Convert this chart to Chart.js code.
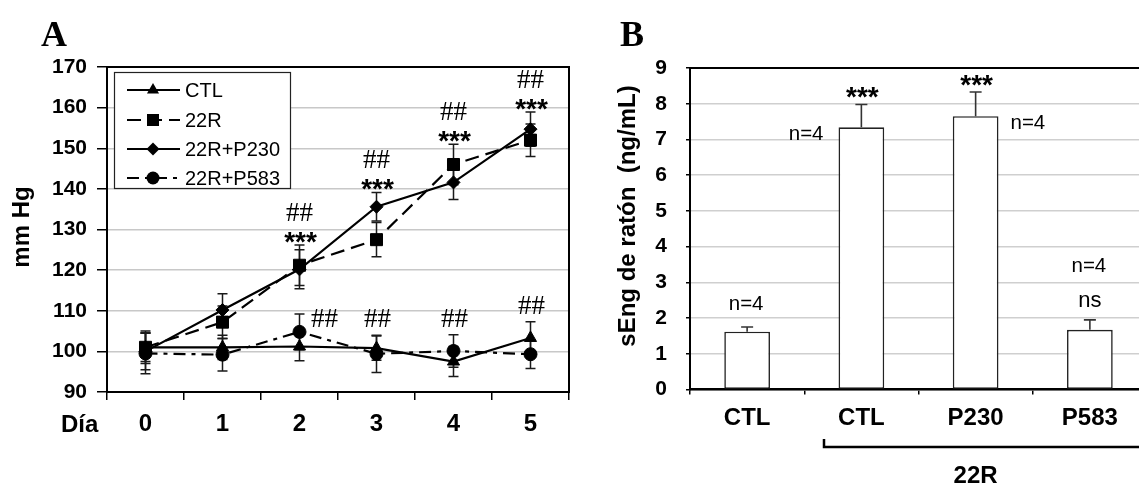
<!DOCTYPE html>
<html><head><meta charset="utf-8">
<script src="https://cdn.jsdelivr.net/npm/chart.js@4.4.1/dist/chart.umd.min.js"></script>
<style>
html,body{margin:0;padding:0;background:#fff;width:1139px;height:484px;overflow:hidden;position:relative}
#ca{position:absolute;left:0;top:0}
#cb{position:absolute;left:600px;top:0}
</style></head><body>
<canvas id="ca" width="600" height="484"></canvas>
<canvas id="cb" width="560" height="484"></canvas>
<script>
// ---------- Panel A data ----------
const days = ['0', '1', '2', '3', '4', '5'];
const seriesNames = ['CTL', '22R', '22R+P230', '22R+P583'];
const ctlVals  = [101.0, 101.0, 101.2, 100.8, 97.5, 103.3];
const ctlErr   = [3.5, 3.0, 3.5, 3.0, 3.7, 4.0];
const r22Vals  = [101.0, 107.2, 121.2, 127.5, 146.0, 152.0];
const r22Err   = [4.0, 4.0, 5.0, 4.2, 5.0, 4.0];
const p230Vals = [100.0, 110.2, 120.2, 135.6, 141.6, 154.7];
const p230Err  = [4.5, 4.0, 4.8, 3.5, 4.2, 4.2];
const p583Vals = [99.5, 99.2, 104.8, 99.4, 100.1, 99.3];
const p583Err  = [5.0, 4.0, 4.4, 4.6, 4.0, 3.5];
const yTicksA  = [90, 100, 110, 120, 130, 140, 150, 160, 170];
const starMarksA = ['', '', '***', '***', '***', '***'];
const hashMarksA = ['', '', '##', '##', '##', '##'];
const lowHashMarksA = ['', '', '##', '##', '##', '##'];

// ---------- Panel B data ----------
const barCats  = ['CTL', 'CTL', 'P230', 'P583'];
const barVals  = [1.62, 7.34, 7.65, 1.67];
const barErr   = [0.13, 0.64, 0.68, 0.28];
const yTicksB  = [0, 1, 2, 3, 4, 5, 6, 7, 8, 9];
const barStars = ['', '***', '***', ''];
const barN     = ['n=4', 'n=4', 'n=4', 'n=4'];
const barNs    = ['', '', '', 'ns'];
const groupLabel = '22R';

const SANS = "'Liberation Sans', Arial, sans-serif";
const SERIF = "'Liberation Serif', 'Times New Roman', serif";
Chart.defaults.font.family = SANS;
Chart.defaults.color = '#000';
Chart.defaults.animation = false;

function drawMarker(ctx, style, x, y, r) {
  ctx.beginPath();
  if (style === 'triangle') {
    ctx.moveTo(x, y - r);
    ctx.lineTo(x + 0.866 * r, y + 0.5 * r);
    ctx.lineTo(x - 0.866 * r, y + 0.5 * r);
    ctx.closePath();
  } else if (style === 'rect') {
    const s = Math.SQRT1_2 * r;
    ctx.rect(x - s, y - s, 2 * s, 2 * s);
  } else if (style === 'rectRot') {
    ctx.moveTo(x - r, y); ctx.lineTo(x, y - r); ctx.lineTo(x + r, y); ctx.lineTo(x, y + r); ctx.closePath();
  } else {
    ctx.arc(x, y, r, 0, Math.PI * 2);
  }
  ctx.fill();
}

function textAt(ctx, txt, x, cy, font, capRatio, align) {
  ctx.font = font;
  ctx.textAlign = align || 'center';
  ctx.textBaseline = 'alphabetic';
  const size = parseFloat(font.match(/(\d+(\.\d+)?)px/)[1]);
  ctx.fillText(txt, x, cy + capRatio * size);
}

// ---------- Panel A plugins ----------
const errorBarsA = {
  id: 'errorBarsA',
  beforeDatasetsDraw(chart) {
    const { ctx, scales: { x, y } } = chart;
    ctx.save();
    ctx.strokeStyle = '#1a1a1a'; ctx.lineWidth = 1.5; ctx.setLineDash([]);
    chart.data.datasets.forEach(ds => {
      ds.errors.forEach((e, i) => {
        const v = ds.data[i];
        const px = x.getPixelForValue(i);
        const t = y.getPixelForValue(v + e), b = y.getPixelForValue(v - e);
        ctx.beginPath();
        ctx.moveTo(px, t); ctx.lineTo(px, b);
        ctx.moveTo(px - 5, t); ctx.lineTo(px + 5, t);
        ctx.moveTo(px - 5, b); ctx.lineTo(px + 5, b);
        ctx.stroke();
      });
    });
    ctx.restore();
  }
};

const decorA = {
  id: 'decorA',
  afterDraw(chart) {
    const { ctx, chartArea: ca, scales: { x, y } } = chart;
    ctx.save();
    // frame top & right
    ctx.strokeStyle = '#000'; ctx.lineWidth = 2; ctx.setLineDash([]);
    ctx.beginPath();
    ctx.moveTo(ca.left - 1, ca.top); ctx.lineTo(ca.right, ca.top); ctx.lineTo(ca.right, ca.bottom + 1);
    ctx.stroke();

    ctx.fillStyle = '#000';
    const hashFont = '27px ' + SERIF;
    // significance marks
    days.forEach((d, i) => {
      const px = x.getPixelForValue(i);
      if (starMarksA[i]) {
        const top = Math.max(r22Vals[i] + r22Err[i], p230Vals[i] + p230Err[i]);
        const py = y.getPixelForValue(top);
        textAt(ctx, starMarksA[i], px + 1, py - 10, 'bold 28px ' + SANS, 0.57);
        textAt(ctx, hashMarksA[i], px, py - 33, hashFont, 0.33);
      }
      if (lowHashMarksA[i]) {
        const top = Math.max(ctlVals[i] + ctlErr[i], p583Vals[i] + p583Err[i]);
        const py = y.getPixelForValue(top);
        if (i === 2) textAt(ctx, lowHashMarksA[i], px + 25, py + 4, hashFont, 0.33);
        else textAt(ctx, lowHashMarksA[i], px + 1, py - 17, hashFont, 0.33);
      }
    });

    // legend
    ctx.fillStyle = '#fff';
    ctx.fillRect(114, 72, 177, 117);
    ctx.strokeStyle = '#222'; ctx.lineWidth = 1.2;
    ctx.strokeRect(114.5, 72.5, 176, 116);
    const rows = [90, 120, 149, 178];
    chart.data.datasets.forEach((ds, i) => {
      const ry = rows[i];
      ctx.strokeStyle = '#000'; ctx.lineWidth = 2.2;
      ctx.setLineDash(ds.borderDash || []);
      ctx.beginPath(); ctx.moveTo(127, ry); ctx.lineTo(180, ry); ctx.stroke();
      ctx.setLineDash([]);
      ctx.fillStyle = '#000';
      drawMarker(ctx, ds.pointStyle, 153, ry, ds.pointRadius);
      textAt(ctx, ds.label, 185, ry, '20px ' + SANS, 0.36, 'left');
    });

    // titles
    ctx.fillStyle = '#000';
    textAt(ctx, 'A', 41, 34, 'bold 36px ' + SERIF, 0.33, 'left');
    textAt(ctx, 'Día', 61, 423, 'bold 24px ' + SANS, 0.36, 'left');
    ctx.save();
    ctx.translate(22, 227); ctx.rotate(-Math.PI / 2);
    textAt(ctx, 'mm Hg', 0, 0, 'bold 24px ' + SANS, 0.30, 'center');
    ctx.restore();
    ctx.restore();
  }
};

const lineDS = (label, data, errors, style, radius, dash) => ({
  label, data, errors,
  borderColor: '#000', backgroundColor: '#000', borderWidth: 2.2, borderDash: dash,
  pointStyle: style, pointRadius: radius, pointBackgroundColor: '#000', pointBorderColor: '#000',
  pointBorderWidth: 1, tension: 0, fill: false
});

new Chart(document.getElementById('ca'), {
  type: 'line',
  data: {
    labels: days,
    datasets: [
      lineDS(seriesNames[0], ctlVals, ctlErr, 'triangle', 7, []),
      lineDS(seriesNames[1], r22Vals, r22Err, 'rect', 8.5, [14, 7]),
      lineDS(seriesNames[2], p230Vals, p230Err, 'rectRot', 6.5, []),
      lineDS(seriesNames[3], p583Vals, p583Err, 'circle', 6.5, [12, 6, 4, 6])
    ]
  },
  options: {
    responsive: false, animation: false,
    layout: { padding: { left: 0, top: 67, right: 31, bottom: 0 } },
    plugins: { legend: { display: false }, tooltip: { enabled: false } },
    scales: {
      x: {
        type: 'category', offset: true,
        grid: { display: true, offset: true, drawOnChartArea: false, tickLength: 8, color: '#000', lineWidth: 1.5 },
        border: { display: true, color: '#000', width: 2 },
        ticks: { font: { size: 24, weight: 'bold' }, color: '#000', padding: 10, maxRotation: 0, autoSkip: false },
        afterFit(s) { s.height = 92; }
      },
      y: {
        min: yTicksA[0], max: yTicksA[yTicksA.length - 1],
        afterBuildTicks(s) { s.ticks = yTicksA.map(v => ({ value: v })); },
        ticks: { font: { size: 21, weight: 'bold' }, color: '#000', padding: 10 },
        grid: { color: '#c8c8c8', lineWidth: 1.5, tickLength: 10, tickColor: '#000' },
        border: { display: true, color: '#000', width: 2 },
        afterFit(s) { s.width = 107; }
      }
    }
  },
  plugins: [errorBarsA, decorA]
});

// ---------- Panel B ----------
const decorB = {
  id: 'decorB',
  afterDatasetsDraw(chart) {
    const { ctx, chartArea: ca, scales: { x, y } } = chart;
    const meta = chart.getDatasetMeta(0);
    ctx.save();
    // top border
    ctx.strokeStyle = '#000'; ctx.lineWidth = 2;
    ctx.beginPath(); ctx.moveTo(ca.left - 1, ca.top); ctx.lineTo(chart.width, ca.top); ctx.stroke();
    // error bars (upper only)
    ctx.strokeStyle = '#333'; ctx.lineWidth = 1.6;
    barVals.forEach((v, i) => {
      const px = x.getPixelForValue(i);
      const b = y.getPixelForValue(v), t = y.getPixelForValue(v + barErr[i]);
      ctx.beginPath(); ctx.moveTo(px, b); ctx.lineTo(px, t);
      ctx.moveTo(px - 6, t); ctx.lineTo(px + 6, t); ctx.stroke();
    });
    // labels
    ctx.fillStyle = '#000';
    const placement = ['above', 'left', 'right', 'aboveNs'];
    barVals.forEach((v, i) => {
      const px = x.getPixelForValue(i);
      const bar = meta.data[i];
      const half = bar.width / 2;
      const topBar = y.getPixelForValue(v);
      const topErr = y.getPixelForValue(v + barErr[i]);
      if (barStars[i]) textAt(ctx, barStars[i], px + 1, topErr - 14, 'bold 28px ' + SANS, 0.57);
      const nf = '20.5px ' + SANS;
      if (placement[i] === 'above') textAt(ctx, barN[i], px - 1, topErr - 24, nf, 0.36);
      else if (placement[i] === 'left') textAt(ctx, barN[i], px - half - 15, topBar + 5, nf, 0.36, 'right');
      else if (placement[i] === 'right') textAt(ctx, barN[i], px + half + 12, topBar + 5, nf, 0.36, 'left');
      else {
        textAt(ctx, barNs[i], px, topErr - 19, '22px ' + SANS, 0.26);
        textAt(ctx, barN[i], px - 1, topErr - 55, nf, 0.36);
      }
    });
    // group bracket
    ctx.strokeStyle = '#000'; ctx.lineWidth = 2.5;
    ctx.beginPath(); ctx.moveTo(224, 439); ctx.lineTo(224, 447); ctx.lineTo(chart.width, 447); ctx.stroke();
    textAt(ctx, groupLabel, x.getPixelForValue(2), 474, 'bold 24px ' + SANS, 0.36);
    // titles
    textAt(ctx, 'B', 20, 34, 'bold 36px ' + SERIF, 0.33, 'left');
    ctx.save();
    ctx.translate(28, 216); ctx.rotate(-Math.PI / 2);
    textAt(ctx, 'sEng de ratón  (ng/mL)', 0, 0, 'bold 24px ' + SANS, 0.30, 'center');
    ctx.restore();
    ctx.restore();
  }
};

new Chart(document.getElementById('cb'), {
  type: 'bar',
  data: {
    labels: barCats,
    datasets: [{
      data: barVals, backgroundColor: '#fff', borderColor: '#222', borderWidth: 1.6,
      borderSkipped: false, barPercentage: 0.4, categoryPercentage: 1
    }]
  },
  options: {
    responsive: false, animation: false,
    layout: { padding: { left: 0, top: 68, right: 13, bottom: 0 } },
    plugins: { legend: { display: false }, tooltip: { enabled: false } },
    scales: {
      x: {
        grid: { display: true, offset: true, drawOnChartArea: false, tickLength: 5, color: '#000', lineWidth: 1.5 },
        border: { display: true, color: '#000', width: 2.5 },
        ticks: { font: { size: 24, weight: 'bold' }, color: '#000', padding: 9, maxRotation: 0, autoSkip: false },
        afterFit(s) { s.height = 94.5; }
      },
      y: {
        min: yTicksB[0], max: yTicksB[yTicksB.length - 1],
        afterBuildTicks(s) { s.ticks = yTicksB.map(v => ({ value: v })); },
        ticks: { font: { size: 21, weight: 'bold' }, color: '#000', padding: 19 },
        grid: { color: '#cfcfcf', lineWidth: 1.5, tickLength: 4, tickColor: '#000' },
        border: { display: true, color: '#000', width: 2 },
        afterFit(s) { s.width = 90; }
      }
    }
  },
  plugins: [decorB]
});
</script>
</body></html>
